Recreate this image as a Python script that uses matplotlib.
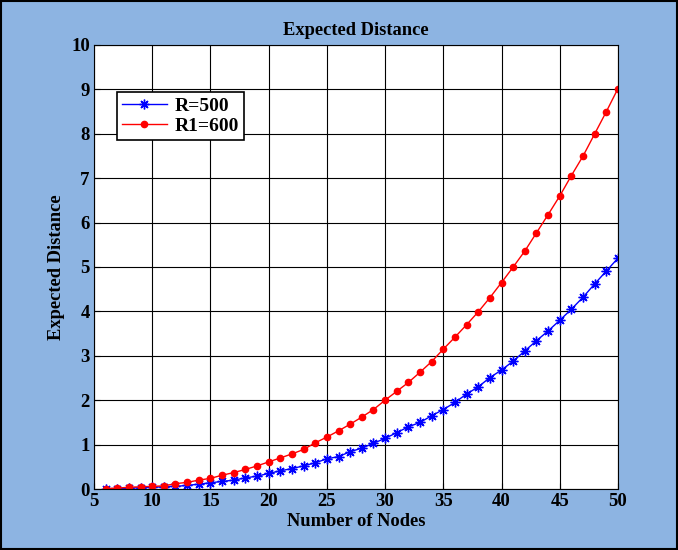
import numpy as np
import matplotlib.pyplot as plt
from matplotlib.patches import Rectangle

plt.rcParams['font.family'] = ['Liberation Serif', 'DejaVu Serif']
plt.rcParams['font.weight'] = 'bold'

nodes = np.arange(6, 51)
r500 = [0.01, 0.01, 0.02, 0.03, 0.04, 0.05, 0.06, 0.08, 0.11, 0.14,
        0.17, 0.20, 0.25, 0.29, 0.35, 0.41, 0.46, 0.52, 0.59, 0.68,
        0.73, 0.84, 0.92, 1.03, 1.14, 1.27, 1.40, 1.50, 1.65, 1.79,
        1.95, 2.14, 2.30, 2.51, 2.68, 2.88, 3.11, 3.34, 3.56, 3.80,
        4.05, 4.32, 4.62, 4.91, 5.20]
r600 = [0.01, 0.02, 0.04, 0.05, 0.06, 0.07, 0.12, 0.15, 0.20, 0.24,
        0.31, 0.37, 0.44, 0.52, 0.61, 0.70, 0.79, 0.89, 1.04, 1.17,
        1.31, 1.46, 1.62, 1.79, 2.00, 2.20, 2.40, 2.63, 2.87, 3.15,
        3.42, 3.70, 3.99, 4.31, 4.65, 5.00, 5.36, 5.77, 6.18, 6.60,
        7.06, 7.50, 8.00, 8.50, 9.02]

bg = '#8db4e2'
fig = plt.figure(figsize=(6.78, 5.5), dpi=100, facecolor=bg)
fig.patches.append(Rectangle((0.002, 0.002), 0.996, 0.996, transform=fig.transFigure,
                             fill=False, edgecolor='black', linewidth=1.5))
ax = fig.add_axes([0.1386, 0.1109, 0.7729, 0.8073])
ax.set_facecolor('white')

ax.plot(nodes, r500, color='blue', marker=(8, 2, 0), markersize=7, linewidth=1,
        markeredgewidth=1, label='R=500')
ax.plot(nodes, r600, color='red', marker='o', markersize=4.5, linewidth=1,
        label='R1=600')

ax.set_xlim(5, 50)
ax.set_ylim(0, 10)
ax.set_xticks(np.arange(5, 51, 5))
ax.set_yticks(np.arange(0, 11, 1))
ax.grid(True, color='black', linestyle='-', linewidth=0.8)
ax.set_axisbelow(True)
ax.tick_params(direction='in', labelsize=13.5, length=4, pad=3)
for s in ax.spines.values():
    s.set_linewidth(0.8)

ax.set_title('Expected Distance', fontsize=13.3, fontweight='bold', pad=7)
ax.set_xlabel('Number of Nodes', fontsize=13.3, fontweight='bold', labelpad=2)
ax.set_ylabel('Expected Distance', fontsize=13.3, fontweight='bold', labelpad=4)

leg = ax.legend(loc='upper left', bbox_to_anchor=(0.044, 0.894), borderaxespad=0,
                fancybox=False, framealpha=1, edgecolor='black',
                prop={'size': 14, 'weight': 'bold'},
                handlelength=2.3, handletextpad=0.4, borderpad=0.25, labelspacing=0.15)
leg.get_frame().set_linewidth(1.2)

fig.savefig('out.png', dpi=100, facecolor=bg)
